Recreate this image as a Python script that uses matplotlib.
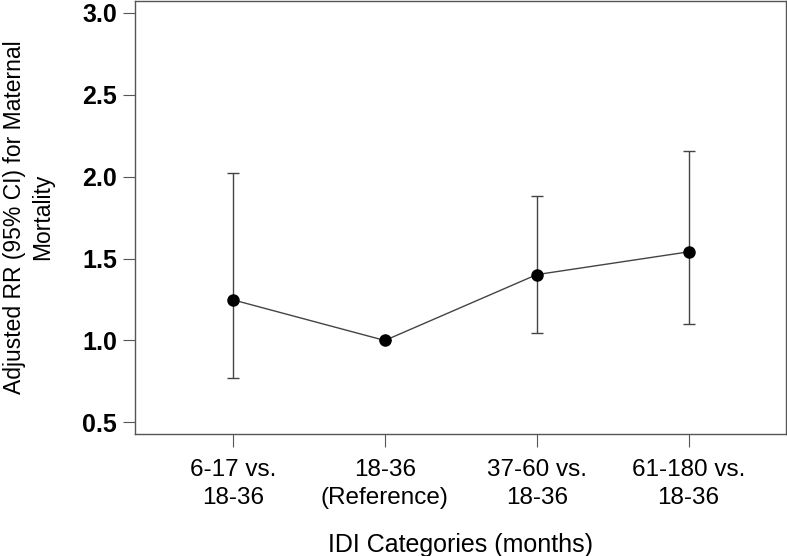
import matplotlib
matplotlib.use("Agg")
import matplotlib.pyplot as plt

categories = ["6-17 vs.\n18-36", "18-36\n(Reference)", "37-60 vs.\n18-36", "61-180 vs.\n18-36"]
rr = [1.248, 1.00, 1.402, 1.541]
ci_low = [0.773, 1.00, 1.047, 1.099]
ci_high = [2.022, 1.00, 1.880, 2.159]
y_ticks = [0.5, 1.0, 1.5, 2.0, 2.5, 3.0]

plt.rcParams["font.family"] = ["Liberation Sans", "DejaVu Sans"]

fig = plt.figure(figsize=(7.87, 5.56), dpi=100)
ax = fig.add_axes([0.1715, 0.2194, 0.827, 0.7796])

x = list(range(1, len(categories) + 1))
err_lo = [r - lo for r, lo in zip(rr, ci_low)]
err_hi = [hi - r for r, hi in zip(rr, ci_high)]

ax.errorbar(x, rr, yerr=[err_lo, err_hi], fmt="none", ecolor="#444444",
            elinewidth=1.0, capsize=4.5, capthick=1.0, zorder=2)
ax.plot(x, rr, color="#444444", linewidth=1.0, zorder=3)
ax.plot(x, rr, "o", color="black", markersize=8, zorder=4)

ax.set_xlim(0.355, 4.64)
ax.set_ylim(0.429, 3.075)
ax.set_xticks(x)
ax.set_xticklabels(categories, fontsize=17.5, linespacing=1.37)
ax.set_yticks(y_ticks)
ax.set_yticklabels([f"{t:.1f}" for t in y_ticks], fontsize=18, fontweight="bold")

for side in ["left", "right", "top", "bottom"]:
    ax.spines[side].set_color("#555555")
    ax.spines[side].set_linewidth(1.0)
ax.tick_params(axis="both", direction="out", length=9, width=0.8, color="#555555")
ax.tick_params(axis="y", pad=4)
ax.tick_params(axis="x", pad=9)

ax.set_xlabel("IDI Categories (months)", fontsize=18, labelpad=17)
ax.set_ylabel("Adjusted RR (95% CI) for Maternal\nMortality", fontsize=16.5,
              labelpad=20, linespacing=1.3)

fig.savefig("out.png", dpi=100)
